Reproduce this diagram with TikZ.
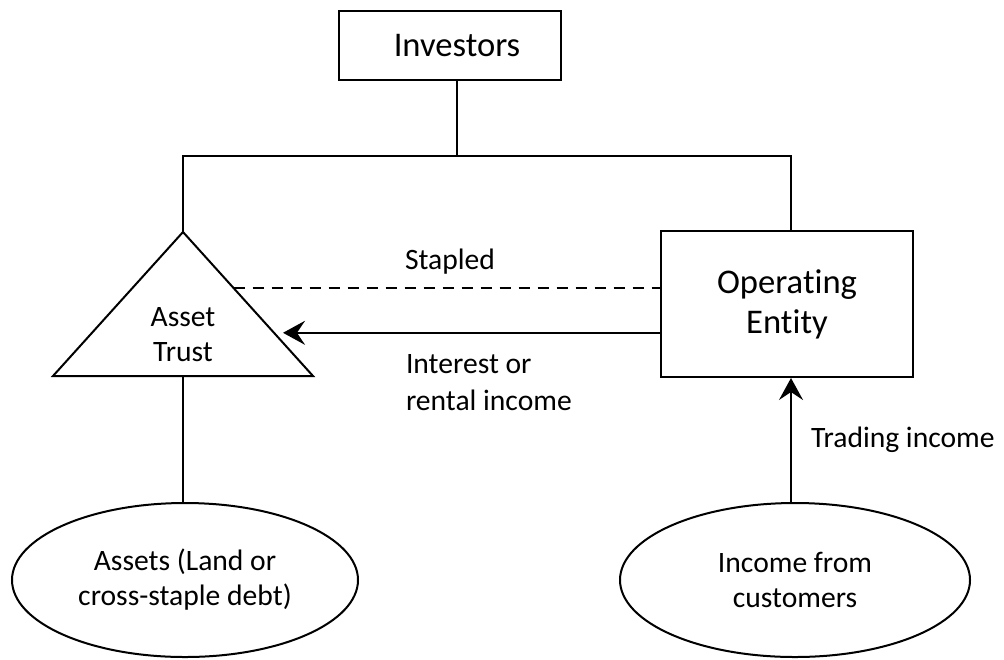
\documentclass[tikz,border=0pt]{standalone}
\usepackage{fontspec}
\setmainfont{Carlito}[Ligatures={NoCommon}]
\usetikzlibrary{arrows.meta,positioning,shapes.geometric,calc}

\begin{document}
\begin{tikzpicture}[x=0.5pt,y=-0.5pt,line width=1pt,
  >={Stealth[length=11pt,width=12pt,inset=4pt]},
  party/.style={draw,align=center,font=\fontsize{17.3}{20}\selectfont},
  pool/.style={draw,ellipse,align=center,minimum width=173pt,minimum height=77pt,
    font=\fontsize{14.8}{17.5}\selectfont},
  flow/.style={inner sep=0pt,align=left,font=\fontsize{14.8}{18.5}\selectfont},
  stapling/.style={dash pattern=on 5.5pt off 4pt}]
\useasboundingbox (0,0) rectangle (1004,659);
\node[party,minimum width=111pt,minimum height=34.5pt] (inv) at (450,45.5) {\hspace*{7pt}Investors};
\node[party,minimum width=126pt,minimum height=73pt] (ent) at (787,304) {Operating\\Entity};
% asset trust triangle
\coordinate (apex) at (183,232);
\coordinate (tr) at (313,376);
\coordinate (tl) at (53,376);
\coordinate (tbase) at (183,376);
\draw (apex) -- (tr) -- (tl) -- cycle;
\node[flow,align=center,font=\fontsize{14.8}{17.5}\selectfont] (trust) at (183,335) {Asset\\Trust};
\node[pool] (assets) at (185,580) {Assets (Land or\\cross-staple debt)};
\node[pool,minimum width=175pt] (cust) at (795,580) {Income from\\customers};
% investor bus
\coordinate (busL) at (183,156);
\coordinate (busM) at (457,156);
\coordinate (busR) at (791,156);
\draw (busM |- inv.south) -- (busM);
\draw (apex) -- (busL) -- (busR) -- (busR |- ent.north);
\draw (tbase) -- (tbase |- assets.north);
% flows between trust and entity
\coordinate (stapleL) at ($(apex)!0.39!(tr)$);
\coordinate (payL) at ($(apex)!0.70!(tr)$);
\draw[stapling] (stapleL) -- (stapleL -| ent.west);
\draw[->,shorten >=4.5pt] (payL -| ent.west) -- (payL);
\draw[->] (cust.north -| busR) -- (ent.south -| busR);
\node[flow] (stapled) at (450,262) {Stapled};
\node[flow,anchor=west] (interest) at (405,383) {Interest or\\rental income};
\node[flow,anchor=west] (trading) at (810,440) {Trading income};
\end{tikzpicture}
\end{document}
